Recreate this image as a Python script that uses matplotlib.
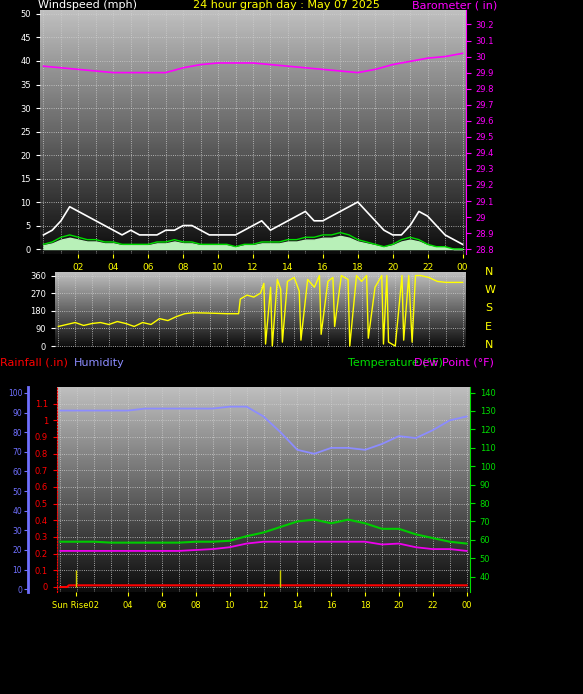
import numpy as np
import matplotlib.pyplot as plt

# wind (mph), half-hourly
gust = [3, 4, 6, 9, 8, 7, 6, 5, 4, 3, 4, 3, 3, 3, 4, 4, 5, 5, 4, 3, 3, 3, 3, 4, 5,
        6, 4, 5, 6, 7, 8, 6, 6, 7, 8, 9, 10, 8, 6, 4, 3, 3, 5, 8, 7, 5, 3, 2, 1]
wind_avg = [1, 1.5, 2.5, 3, 2.5, 2, 2, 1.5, 1.5, 1, 1, 1, 1, 1.5, 1.5, 2, 1.5, 1.5, 1, 1,
            1, 1, 0.5, 1, 1, 1.5, 1.5, 1.5, 2, 2, 2.5, 2.5, 3, 3, 3.5, 3, 2, 1.5, 1, 0.5,
            1, 2, 2.5, 2, 1, 0.5, 0.5, 0, 0]
# barometer (in), hourly
baro = [29.94, 29.93, 29.92, 29.91, 29.90, 29.90, 29.90, 29.90, 29.93, 29.95, 29.96,
        29.96, 29.96, 29.95, 29.94, 29.93, 29.92, 29.91, 29.90, 29.92, 29.95, 29.97,
        29.99, 30.00, 30.02]
# wind direction (deg)
dir_t = [0.0, 0.5, 1.0, 1.5, 2.0, 2.5, 3.0, 3.5, 4.0, 4.5, 5.0, 5.5, 6.0, 6.5, 7.0, 7.5,
         8.0, 9.0, 10.0, 10.7, 10.8, 11.2, 11.6, 12.0, 12.2, 12.3, 12.6, 12.7, 13.0, 13.2,
         13.3, 13.6, 14.0, 14.3, 14.4, 14.8, 15.2, 15.5, 15.6, 16.0, 16.3, 16.4, 16.8,
         17.2, 17.3, 17.7, 18.0, 18.3, 18.4, 18.8, 19.2, 19.3, 19.5, 19.6, 20.0, 20.4,
         20.5, 20.8, 21.0, 21.2, 21.5, 22.0, 22.5, 23.0, 24.0]
dir_v = [100, 110, 120, 105, 115, 120, 110, 125, 115, 100, 120, 110, 140, 130, 150, 165,
         170, 168, 165, 165, 240, 260, 250, 270, 320, 10, 300, 0, 340, 290, 20, 330, 350,
         280, 30, 340, 300, 360, 60, 330, 350, 100, 360, 340, 0, 360, 330, 360, 40, 300,
         360, 10, 360, 20, 0, 360, 30, 360, 20, 360, 360, 350, 330, 325, 325]
# humidity (%), temperature / dew point (F), hourly
hum = [91, 91, 91, 91, 91, 92, 92, 92, 92, 92, 93, 93, 88, 80, 71, 69, 72, 72, 71, 74,
       78, 77, 81, 86, 88]
temp = [59, 59, 59, 58.5, 58.5, 58.5, 58.5, 58.5, 59, 59, 59.5, 62, 64, 67, 70, 71, 69,
        71, 69, 66, 66, 63, 61, 59, 58]
dew = [54, 54, 54, 54, 54, 54, 54, 54, 54.5, 55, 56, 58, 59, 59, 59, 59, 59, 59, 59, 57.5,
       58, 56, 55, 55, 54]
rain_t = [0, 0.4, 0.5, 24]
rain_v = [0, 0, 0.01, 0.01]
hours = list(range(25))
tick_hours = [2, 4, 6, 8, 10, 12, 14, 16, 18, 20, 22, 24]
tick_labels = ['02', '04', '06', '08', '10', '12', '14', '16', '18', '20', '22', '00']

W, H = 583, 694
fig = plt.figure(figsize=(W / 100, H / 100), dpi=100, facecolor='black')
plt.rcParams['font.family'] = 'DejaVu Sans'


def box(l, t, r, b):
    return [l / W, 1 - b / H, (r - l) / W, (b - t) / H]


def background(ax):
    grad = np.linspace(0.75, 0.05, 100).reshape(-1, 1)
    ax.imshow(grad, cmap='gray', vmin=0, vmax=1, aspect='auto',
              extent=(0, 1, 0, 1), transform=ax.transAxes, zorder=0)
    ax.set_facecolor('black')
    ax.tick_params(colors='yellow', labelsize=6.5, length=3)
    for s in ax.spines.values():
        s.set_visible(False)
    ax.set_xlim(-0.2, 24.2)
    for h in range(25):
        ax.axvline(h, color='#cfcfcf', lw=0.6, ls=':', zorder=1)


# --- panel 1: wind & barometer
ax1 = fig.add_axes(box(40, 10, 466, 254))
background(ax1)
ax1.set_ylim(-1.06, 50.85)
ax1.set_yticks(range(0, 51, 5))
ax1.tick_params(axis='y', colors='white', labelsize=6)
for y in range(0, 51, 5):
    ax1.axhline(y, color='#cfcfcf', lw=0.6, ls=':', zorder=1)
wt = np.linspace(0, 24, len(gust))
ax1.fill_between(wt, 0, np.array(wind_avg) * 0.8, color='#b8f0b8', zorder=2)
ax1.plot(wt, gust, color='white', lw=1.2, zorder=3)
ax1.plot(wt, wind_avg, color='#00dd00', lw=1, zorder=4)
ax1.set_xticks(tick_hours)
ax1.set_xticklabels(tick_labels)
ax1b = ax1.twinx()
ax1b.set_ylim(28.77, 30.29)
ax1b.set_yticks(np.round(np.arange(28.8, 30.25, 0.1), 1))
ax1b.set_yticklabels(['28.8', '28.9', '29', '29.1', '29.2', '29.3', '29.4', '29.5',
                      '29.6', '29.7', '29.8', '29.9', '30', '30.1', '30.2'])
ax1b.tick_params(axis='y', colors='#ff00ff', labelsize=6)
ax1b.spines['right'].set_color('#ff00ff')
for s in ['top', 'left', 'bottom']:
    ax1b.spines[s].set_visible(False)
ax1b.plot(hours, baro, color='#ff00ff', lw=1.2)
fig.text(38 / W, 1 - 0 / H, 'Windspeed (mph)', color='white', fontsize=8, va='top')
fig.text(193 / W, 1 - 0 / H, '24 hour graph day : May 07 2025', color='yellow', fontsize=8, va='top')
fig.text(412 / W, 1 - 0 / H, 'Barometer ( in)', color='#ff00ff', fontsize=8, va='top')

# --- panel 2: wind direction
ax2 = fig.add_axes(box(55, 272, 466, 347))
background(ax2)
ax2.set_ylim(-5, 378)
ax2.set_yticks([0, 90, 180, 270, 360])
ax2.tick_params(axis='y', colors='white', labelsize=6)
ax2.set_xticks([])
for y in [0, 90, 180, 270, 360]:
    ax2.axhline(y, color='#cfcfcf', lw=0.6, ls=':', zorder=1)
ax2.plot(dir_t, dir_v, color='yellow', lw=1, zorder=3)
for c, yp in zip(['N', 'W', 'S', 'E', 'N'], [272, 290, 308, 327, 345]):
    fig.text(485 / W, 1 - yp / H, c, color='yellow', fontsize=8, va='center')

# --- panel 3: humidity, rain, temperature
ax3 = fig.add_axes(box(57, 387, 470, 592))
background(ax3)
ax3.set_ylim(-0.03, 1.2)
ax3.set_yticks(np.round(np.arange(0, 1.15, 0.1), 1))
ax3.set_yticklabels(['0', '0.1', '0.2', '0.3', '0.4', '0.5', '0.6', '0.7', '0.8', '0.9', '1', '1.1'])
ax3.tick_params(axis='y', colors='red', labelsize=6)
ax3.spines['left'].set_visible(True)
ax3.spines['left'].set_color('red')
ax3.spines['left'].set_linestyle(':')
for y in np.arange(0, 1.15, 0.1):
    ax3.axhline(y, color='#cfcfcf', lw=0.6, ls=':', zorder=1)
ax3.set_xticks([0.9] + tick_hours[1:])
ax3.set_xticklabels(['Sun Rise02'] + tick_labels[1:])
ax3.tick_params(axis='x', labelsize=6)
ax3.plot(rain_t, rain_v, color='red', lw=1.5, zorder=5)
ax3.vlines([0.9, 13.0], 0, 0.1, color='#cccc00', lw=1, zorder=5)

axh = ax3.twinx()
axh.set_ylim(-1.4, 103)
axh.set_yticks(range(0, 101, 10))
axh.yaxis.set_ticks_position('left')
axh.spines['left'].set_position(('outward', 21))
axh.spines['left'].set_visible(True)
axh.spines['left'].set_color('#7070ff')
axh.spines['left'].set_linewidth(2)
for s in ['top', 'right', 'bottom']:
    axh.spines[s].set_visible(False)
axh.tick_params(axis='y', colors='#7070ff', labelsize=5.5, pad=1, length=3)
axh.plot(hours, hum, color='#8c8cff', lw=1.3)

axt = ax3.twinx()
axt.set_ylim(31.7, 143)
axt.set_yticks(range(40, 141, 10))
axt.tick_params(axis='y', colors='#00dd00', labelsize=6)
for s in ['top', 'left', 'bottom']:
    axt.spines[s].set_visible(False)
axt.spines['right'].set_color('#00dd00')
axt.plot(hours, temp, color='#00cc00', lw=1.5)
axt.plot(hours, dew, color='#ee00ee', lw=1.3)
fig.text(0, 1 - 358 / H, 'Rainfall (.in)', color='red', fontsize=8, va='top')
fig.text(74 / W, 1 - 358 / H, 'Humidity', color='#8c8cff', fontsize=8, va='top')
fig.text(348 / W, 1 - 358 / H, 'Temperature (°F)', color='#00dd00', fontsize=8, va='top')
fig.text(414 / W, 1 - 358 / H, 'Dew Point (°F)', color='#ff00ff', fontsize=8, va='top')

fig.savefig('out.png', dpi=100, facecolor='black')
